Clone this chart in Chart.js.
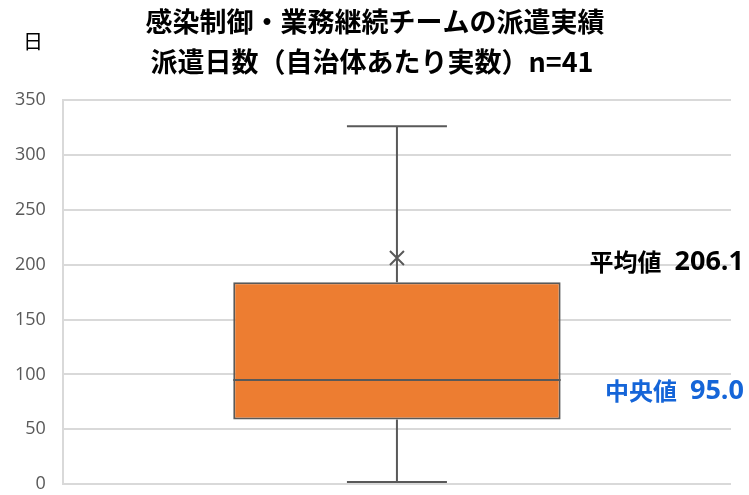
<!DOCTYPE html>
<html>
<head>
<meta charset="utf-8">
<script src="https://cdn.jsdelivr.net/npm/chart.js@4/dist/chart.umd.min.js"></script>
<style>
  html, body { margin: 0; padding: 0; background: #fff; overflow: hidden; }
  canvas { display: block; }
</style>
</head>
<body>
<canvas id="box" width="749" height="495"></canvas>
<script>
// data
const titleLines = ["感染制御・業務継続チームの派遣実績", "派遣日数（自治体あたり実数）n=41"];
const categories = [""];
const whiskerMin = [2];
const q1 = [59];
const median = [95.0];
const q3 = [184];
const whiskerMax = [326];
const mean = [206.1];
const yTicks = [0, 50, 100, 150, 200, 250, 300, 350];

const LINE = "#595959";
const FONT = "'Noto Sans CJK JP', 'Noto Sans', sans-serif";
const NUMFONT = "'Open Sans', 'Noto Sans CJK JP', sans-serif";

// whiskers, median, mean cross and the text labels
const boxExtras = {
    id: "boxExtras",
    afterDatasetsDraw(chart) {
        const ctx = chart.ctx;
        const x = chart.scales.x;
        const y = chart.scales.y;
        const bar = chart.getDatasetMeta(0).data[0];
        const cx = x.getPixelForValue(0);
        const half = bar.width / 2;
        const cap = 50;
        const r = 7;

        ctx.save();
        ctx.strokeStyle = LINE;
        ctx.lineWidth = 2;
        ctx.beginPath();
        // upper whisker
        ctx.moveTo(cx, y.getPixelForValue(q3[0]));
        ctx.lineTo(cx, y.getPixelForValue(whiskerMax[0]));
        ctx.moveTo(cx - cap, y.getPixelForValue(whiskerMax[0]));
        ctx.lineTo(cx + cap, y.getPixelForValue(whiskerMax[0]));
        // lower whisker
        ctx.moveTo(cx, y.getPixelForValue(q1[0]));
        ctx.lineTo(cx, y.getPixelForValue(whiskerMin[0]));
        ctx.moveTo(cx - cap, y.getPixelForValue(whiskerMin[0]));
        ctx.lineTo(cx + cap, y.getPixelForValue(whiskerMin[0]));
        // median
        ctx.moveTo(cx - half, y.getPixelForValue(median[0]));
        ctx.lineTo(cx + half, y.getPixelForValue(median[0]));
        // mean marker (x)
        const my = y.getPixelForValue(mean[0]);
        ctx.moveTo(cx - r, my - r);
        ctx.lineTo(cx + r, my + r);
        ctx.moveTo(cx - r, my + r);
        ctx.lineTo(cx + r, my - r);
        ctx.stroke();
        ctx.restore();
    },
    afterDraw(chart) {
        const ctx = chart.ctx;
        const y = chart.scales.y;
        ctx.save();
        ctx.textBaseline = "middle";

        // title
        ctx.fillStyle = "#000";
        ctx.font = "bold 27px " + FONT;
        ctx.textAlign = "center";
        ctx.fillText(titleLines[0], 375, 22);
        ctx.fillText(titleLines[1], 372, 62);

        // unit label
        ctx.font = "20px " + FONT;
        ctx.fillText("日", 33, 41);

        // value labels: CJK part then number, right-aligned to the edge
        const drawLabel = (name, val, yPix, color) => {
            ctx.fillStyle = color;
            ctx.textAlign = "right";
            ctx.font = "bold 27px " + NUMFONT;
            const num = val.toFixed(1);
            ctx.fillText(num, 744, yPix);
            const w = ctx.measureText(num).width;
            ctx.font = "bold 24px " + FONT;
            ctx.fillText(name, 744 - w - 13, yPix);
        };
        drawLabel("平均値", mean[0], y.getPixelForValue(mean[0]) + 4, "#000");
        drawLabel("中央値", median[0], y.getPixelForValue(median[0]) + 11, "#1565D8");
        ctx.restore();
    }
};

new Chart(document.getElementById("box"), {
    type: "bar",
    data: {
        labels: categories,
        datasets: [
            {
                label: "box",
                data: q1.map((v, i) => [v, q3[i]]),
                backgroundColor: "#ED7D31",
                borderColor: LINE,
                borderWidth: 2,
                borderSkipped: false,
                barPercentage: 0.49,
                categoryPercentage: 1.0
            }
        ]
    },
    plugins: [boxExtras],
    options: {
        responsive: false,
        animation: false,
        layout: { padding: { top: 100, left: 15, right: 18, bottom: 10 } },
        plugins: {
            legend: { display: false },
            tooltip: { enabled: false },
            title: { display: false }
        },
        scales: {
            x: {
                display: false
            },
            y: {
                min: 0,
                max: 350,
                afterBuildTicks: axis => { axis.ticks = yTicks.map(v => ({ value: v })); },
                ticks: {
                    color: LINE,
                    padding: 0,
                    font: { size: 18, family: NUMFONT }
                },
                grid: {
                    color: "#d9d9d9",
                    lineWidth: 2,
                    drawTicks: true,
                    tickLength: 17,
                    tickColor: "rgba(0,0,0,0)"
                },
                border: { color: "#d9d9d9", width: 2 }
            }
        }
    }
});
</script>
</body>
</html>
